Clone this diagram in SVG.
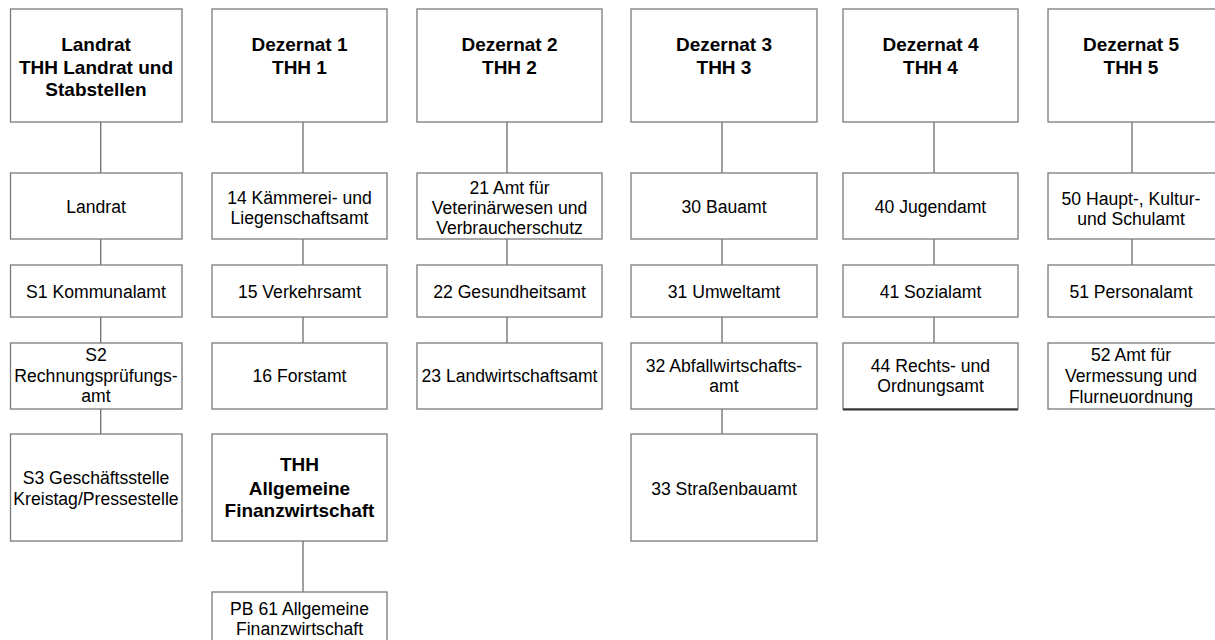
<svg xmlns="http://www.w3.org/2000/svg" width="1215" height="640" viewBox="0 0 1215 640">
<style>
.b{fill:#fff;stroke:#7a7a7a;stroke-width:1.3}
.c{stroke:#6e6e6e;stroke-width:1.3;fill:none}
text{font-family:"Liberation Sans",Arial,sans-serif;fill:#000;text-anchor:middle}
.n{font-size:17.6px}
.h{font-size:19px;font-weight:bold}
</style>
<rect width="1215" height="640" fill="#fff"/>
<g id="connectors">
<path class="c" d="M100.7 122V173M100.7 239V265M100.7 317V343M100.7 409V434"/>
<path class="c" d="M303 122V173M303 239V265M303 317V343M303 541V592"/>
<path class="c" d="M507 122V173M507 239V265M507 317V343"/>
<path class="c" d="M722 122V173M722 239V265M722 317V343M722 409V434"/>
<path class="c" d="M934 122V173M934 239V265M934 317V343"/>
<path class="c" d="M1132 122V173M1132 239V265"/>
</g>
<g id="n-landrat-top"><rect class="b" x="10.5" y="9" width="171.5" height="113"/><text class="h" x="96" y="51">Landrat</text><text class="h" x="96" y="74">THH Landrat und</text><text class="h" x="96" y="96">Stabstellen</text></g>
<g id="n-landrat"><rect class="b" x="10.5" y="173" width="171.5" height="66"/><text class="n" x="96" y="213">Landrat</text></g>
<g id="n-s1"><rect class="b" x="10.5" y="265" width="171.5" height="52"/><text class="n" x="96" y="298">S1 Kommunalamt</text></g>
<g id="n-s2"><rect class="b" x="10.5" y="343" width="171.5" height="66"/><text class="n" x="96" y="360.5">S2</text><text class="n" x="96" y="381.5">Rechnungsprüfungs-</text><text class="n" x="96" y="401.5">amt</text></g>
<g id="n-s3"><rect class="b" x="10.5" y="434" width="171.5" height="107"/><text class="n" x="96" y="483.5">S3 Geschäftsstelle</text><text class="n" x="96" y="504.5">Kreistag/Pressestelle</text></g>

<g id="n-dez1"><rect class="b" x="212" y="9" width="175" height="113"/><text class="h" x="299.5" y="51">Dezernat 1</text><text class="h" x="299.5" y="73.5">THH 1</text></g>
<g id="n-14"><rect class="b" x="212" y="173" width="175" height="66"/><text class="n" x="299.5" y="203.5">14 Kämmerei- und</text><text class="n" x="299.5" y="223.5">Liegenschaftsamt</text></g>
<g id="n-15"><rect class="b" x="212" y="265" width="175" height="52"/><text class="n" x="299.5" y="298">15 Verkehrsamt</text></g>
<g id="n-16"><rect class="b" x="212" y="343" width="175" height="66"/><text class="n" x="299.5" y="381.5">16 Forstamt</text></g>
<g id="n-thh-afw"><rect class="b" x="212" y="434" width="175" height="107"/><text class="h" x="299.5" y="471">THH</text><text class="h" x="299.5" y="494.5">Allgemeine</text><text class="h" x="299.5" y="517">Finanzwirtschaft</text></g>
<g id="n-pb61"><rect class="b" x="212" y="592" width="175" height="60"/><text class="n" x="299.5" y="614.5">PB 61 Allgemeine</text><text class="n" x="299.5" y="634.5">Finanzwirtschaft</text></g>

<g id="n-dez2"><rect class="b" x="417" y="9" width="185" height="113"/><text class="h" x="509.5" y="51">Dezernat 2</text><text class="h" x="509.5" y="73.5">THH 2</text></g>
<g id="n-21"><rect class="b" x="417" y="173" width="185" height="66"/><text class="n" x="509.5" y="193.5">21 Amt für</text><text class="n" x="509.5" y="213.5">Veterinärwesen und</text><text class="n" x="509.5" y="233.5">Verbraucherschutz</text></g>
<g id="n-22"><rect class="b" x="417" y="265" width="185" height="52"/><text class="n" x="509.5" y="298">22 Gesundheitsamt</text></g>
<g id="n-23"><rect class="b" x="417" y="343" width="185" height="66"/><text class="n" x="509.5" y="381.5">23 Landwirtschaftsamt</text></g>

<g id="n-dez3"><rect class="b" x="631" y="9" width="186" height="113"/><text class="h" x="724" y="51">Dezernat 3</text><text class="h" x="724" y="73.5">THH 3</text></g>
<g id="n-30"><rect class="b" x="631" y="173" width="186" height="66"/><text class="n" x="724" y="213">30 Bauamt</text></g>
<g id="n-31"><rect class="b" x="631" y="265" width="186" height="52"/><text class="n" x="724" y="298">31 Umweltamt</text></g>
<g id="n-32"><rect class="b" x="631" y="343" width="186" height="66"/><text class="n" x="724" y="371.5">32 Abfallwirtschafts-</text><text class="n" x="724" y="392">amt</text></g>
<g id="n-33"><rect class="b" x="631" y="434" width="186" height="107"/><text class="n" x="724" y="495">33 Straßenbauamt</text></g>

<g id="n-dez4"><rect class="b" x="843" y="9" width="175" height="113"/><text class="h" x="930.5" y="51">Dezernat 4</text><text class="h" x="930.5" y="73.5">THH 4</text></g>
<g id="n-40"><rect class="b" x="843" y="173" width="175" height="66"/><text class="n" x="930.5" y="213">40 Jugendamt</text></g>
<g id="n-41"><rect class="b" x="843" y="265" width="175" height="52"/><text class="n" x="930.5" y="298">41 Sozialamt</text></g>
<g id="n-44"><rect class="b" x="843" y="343" width="175" height="66"/><line x1="843" y1="409.5" x2="1018" y2="409.5" stroke="#333" stroke-width="2"/><text class="n" x="930.5" y="371.5">44 Rechts- und</text><text class="n" x="930.5" y="391.5">Ordnungsamt</text></g>

<g id="n-dez5"><rect class="b" x="1048" y="9" width="180" height="113"/><text class="h" x="1131" y="51">Dezernat 5</text><text class="h" x="1131" y="73.5">THH 5</text></g>
<g id="n-50"><rect class="b" x="1048" y="173" width="180" height="66"/><text class="n" x="1131" y="205">50 Haupt-, Kultur-</text><text class="n" x="1131" y="225">und Schulamt</text></g>
<g id="n-51"><rect class="b" x="1048" y="265" width="180" height="52"/><text class="n" x="1131" y="298">51 Personalamt</text></g>
<g id="n-52"><rect class="b" x="1048" y="343" width="180" height="66"/><text class="n" x="1131" y="361">52 Amt für</text><text class="n" x="1131" y="381.5">Vermessung und</text><text class="n" x="1131" y="402.5">Flurneuordnung</text></g>
</svg>
